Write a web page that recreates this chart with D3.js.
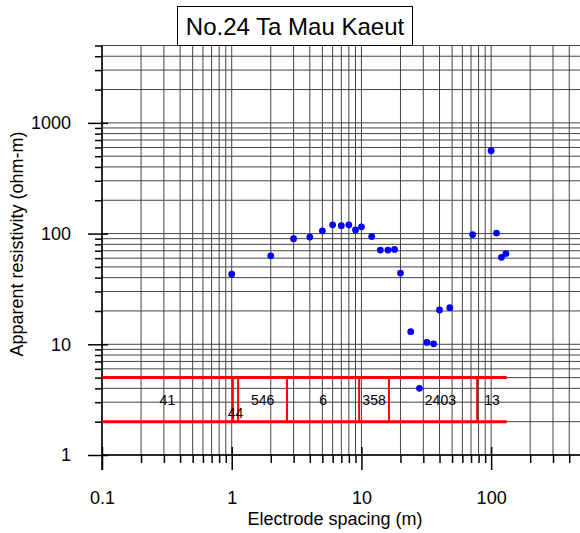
<!DOCTYPE html>
<html>
<head>
<meta charset="utf-8">
<script src="https://cdn.jsdelivr.net/npm/d3@7"></script>
<style>
  html, body { margin: 0; padding: 0; background: #fff; }
  svg { display: block; }
  text { font-family: "Liberation Sans", Arial, sans-serif; fill: #000; }
</style>
</head>
<body>
<div id="chart"></div>
<script>
// Sounding curve: electrode spacing (m) vs apparent resistivity (ohm-m)
const spacing = [1, 2, 3, 4, 5, 6, 7, 8, 9, 10, 12, 14, 16, 18, 20, 24, 28, 32, 36, 40, 48, 72, 100, 110, 120, 130];
const resistivity = [43, 63, 90, 93, 106, 120, 118, 120, 108, 115, 94, 71, 71, 72, 44, 13, 4, 10.4, 10.1, 20.4, 21.4, 98, 560, 101, 61, 66];

// Layered model: boundary depths (m) and layer resistivities (ohm-m)
const layerBoundaries = [1.02, 1.12, 2.67, 9.6, 16.3, 78];
const layerRho = [41, 44, 546, 6, 358, 2403, 13];
const modelExtent = [0.1, 132];
const modelBand = [2, 5];

const xTickValues = [0.1, 1, 10, 100];
const xTickLabels = ["0.1", "1", "10", "100"];
const yTickValues = [1, 10, 100, 1000];
const yTickLabels = ["1", "10", "100", "1000"];

const title = "No.24 Ta Mau Kaeut";
const xTitle = "Electrode spacing (m)";
const yTitle = "Apparent resistivity (ohm-m)";

const W = 580, H = 533;
const plotL = 102, plotR = 581.8, plotT = 45.5, plotB = 455;

const x = d3.scaleLog().domain([0.1, 500]).range([plotL, plotR]);
const y = d3.scaleLog().domain([1, 5000]).range([plotB, plotT]);

const svg = d3.select("#chart").append("svg").attr("width", W).attr("height", H);

// grid at every 1..9 multiple of each decade
const xGrid = x.ticks();
const yGrid = y.ticks();
const grid = svg.append("g").attr("stroke", "#444").attr("stroke-width", 1);
grid.selectAll("line.v").data(xGrid).join("line").attr("class", "v")
  .attr("x1", d => x(d)).attr("x2", d => x(d)).attr("y1", plotT).attr("y2", plotB);
grid.selectAll("line.h").data(yGrid).join("line").attr("class", "h")
  .attr("x1", plotL).attr("x2", plotR).attr("y1", d => y(d)).attr("y2", d => y(d));

const isMajor = d => Math.abs(Math.log10(d) - Math.round(Math.log10(d))) < 1e-9;
const xMinor = xGrid.filter(d => !isMajor(d));
const yMinor = yGrid.filter(d => !isMajor(d));

// x axis
const gx = svg.append("g").attr("transform", `translate(0,${plotB})`);
gx.append("g").call(d3.axisBottom(x).tickValues(xMinor).tickSize(8).tickFormat(""))
  .call(g => g.select(".domain").remove());
gx.append("g").call(d3.axisBottom(x).tickValues(xTickValues).tickSize(15).tickPadding(21)
    .tickFormat((d, i) => xTickLabels[i]))
  .call(g => g.select(".domain").attr("d", `M${plotL},0H${plotR}`))
  .call(g => g.selectAll(".tick").append("line").attr("y1", -8).attr("y2", 0).attr("stroke", "#000"));
gx.selectAll("text").attr("font-size", 18).attr("font-family", "Liberation Sans, Arial, sans-serif");
gx.selectAll("line,path").attr("stroke-width", 1.5).attr("stroke", "#000");

// y axis
const gy = svg.append("g").attr("transform", `translate(${plotL},0)`);
gy.append("g").call(d3.axisLeft(y).tickValues(yMinor).tickSize(7).tickFormat(""))
  .call(g => g.select(".domain").remove());
gy.append("g").call(d3.axisLeft(y).tickValues(yTickValues).tickSize(14).tickPadding(17)
    .tickFormat((d, i) => yTickLabels[i]))
  .call(g => g.select(".domain").attr("d", `M0,${plotT}V${plotB + 15}`))
  .call(g => g.selectAll(".tick").append("line").attr("x1", 0).attr("x2", 6).attr("stroke", "#000"));
gy.selectAll("text").attr("font-size", 18).attr("font-family", "Liberation Sans, Arial, sans-serif");
gy.selectAll("line,path").attr("stroke-width", 1.5).attr("stroke", "#000");

// axis titles
svg.append("text").attr("x", 335).attr("y", 525).attr("text-anchor", "middle")
  .attr("font-size", 18).text(xTitle);
svg.append("text").attr("transform", `translate(23,244) rotate(-90)`).attr("text-anchor", "middle")
  .attr("font-size", 18).text(yTitle);

// layered model band
const red = "#ff0000";
const model = svg.append("g").attr("stroke", red).attr("fill", "none");
model.selectAll("line.b").data(modelBand).join("line").attr("class", "b")
  .attr("x1", x(modelExtent[0])).attr("x2", x(modelExtent[1]))
  .attr("y1", d => y(d)).attr("y2", d => y(d)).attr("stroke-width", 3);
model.selectAll("line.d").data(layerBoundaries).join("line").attr("class", "d")
  .attr("x1", d => x(d)).attr("x2", d => x(d))
  .attr("y1", y(modelBand[1])).attr("y2", y(modelBand[0])).attr("stroke-width", 2);

// observed data
svg.append("g").selectAll("circle").data(spacing).join("circle")
  .attr("cx", d => x(d)).attr("cy", (d, i) => y(resistivity[i])).attr("r", 3.4)
  .attr("fill", "#0000ff");

// layer resistivity labels, centred in each layer (log midpoint)
const edges = [modelExtent[0], ...layerBoundaries, modelExtent[1]];
const labelY = y(Math.sqrt(modelBand[0] * modelBand[1])) + 5;
const labels = svg.append("g");
layerRho.forEach((rho, i) => {
  const cx = (x(edges[i]) + x(edges[i + 1])) / 2;
  const narrow = x(edges[i + 1]) - x(edges[i]) < 15;
  const t = labels.append("text").attr("font-size", 14).attr("text-anchor", "middle")
    .attr("x", cx).attr("y", narrow ? labelY + 13 : labelY).text(rho);
  // keep the label clear of any data point sitting inside the band
  const w = t.node().getComputedTextLength();
  spacing.forEach((s, j) => {
    const r = resistivity[j];
    if (r < modelBand[0] || r > modelBand[1]) return;
    const px = x(s), l = +t.attr("x") - w / 2, rr = +t.attr("x") + w / 2;
    if (px + 3.4 > l - 2 && px - 3.4 < rr + 2) {
      t.attr("x", px + 3.4 + 2 + w / 2);
    }
  });
});

// title box
const tg = svg.append("g");
tg.append("rect").attr("x", 177.5).attr("y", 6.5).attr("width", 235).attr("height", 39)
  .attr("fill", "#fff").attr("stroke", "#000").attr("stroke-width", 1);
tg.append("text").attr("x", 295).attr("y", 35).attr("text-anchor", "middle")
  .attr("font-size", 24).text(title);
</script>
</body>
</html>
